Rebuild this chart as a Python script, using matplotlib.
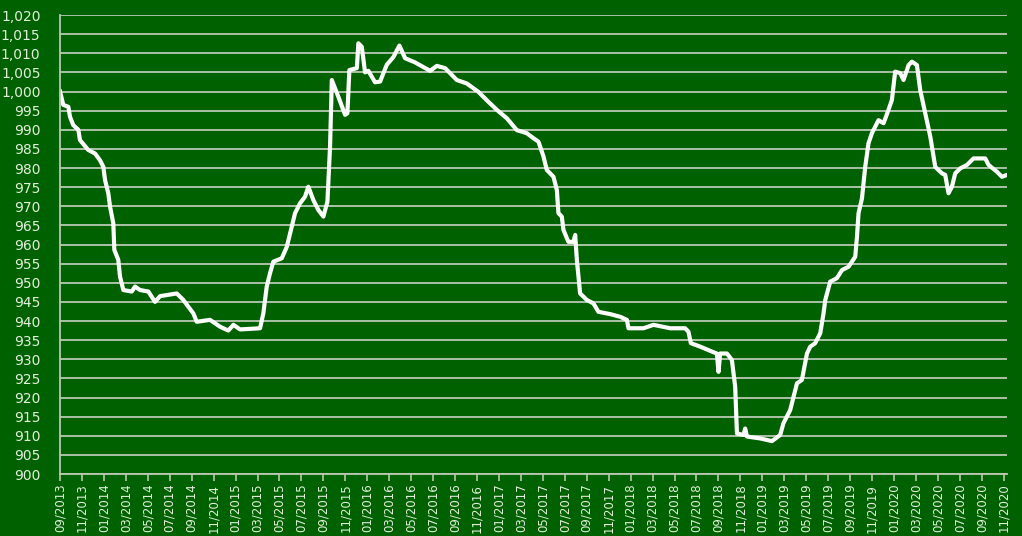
import matplotlib
matplotlib.use("Agg")
import matplotlib.pyplot as plt
import numpy as np

# months since 09/2013 and index values
months = [0, 0.30, 0.76, 0.91, 1.21, 1.67, 1.82, 2.58, 3.19, 3.65, 3.95, 4.10, 4.40,
          4.56, 4.86, 4.95, 5.31, 5.47, 5.77, 6.54, 6.84, 7.29, 8.05, 8.66, 9.12,
          10.64, 11.24, 11.70, 12.15, 12.46, 13.67, 14.59, 15.34, 15.80, 16.41,
          18.23, 18.53, 18.84, 19.14, 19.44, 20.21, 20.67, 21.12, 21.42, 21.88,
          22.33, 22.63, 23.09, 23.55, 24.00, 24.37, 24.61, 24.77, 25.37, 25.98,
          26.19, 26.37, 27.05, 27.19, 27.50, 27.80, 28.10, 28.71, 29.17, 29.78,
          30.38, 30.93, 31.45, 32.36, 33.73, 34.34, 35.10, 36.16, 37.07, 38.13,
          39.04, 39.81, 40.72, 41.63, 42.54, 43.14, 43.60, 44.06, 44.36, 44.97,
          45.28, 45.42, 45.73, 45.88, 46.33, 46.79, 46.95, 47.10, 47.40, 48.01,
          48.61, 49.07, 50.14, 51.05, 51.66, 51.81, 53.17, 54.08, 55.61, 56.97,
          57.27, 57.49, 58.34, 59.41, 59.86, 60.01, 60.16, 60.78, 61.23, 61.53,
          61.69, 62.29, 62.44, 62.60, 63.81, 64.88, 65.63, 65.93, 66.54, 66.85,
          67.16, 67.61, 68.07, 68.37, 68.82, 69.28, 69.58, 69.74, 70.19, 70.80,
          71.26, 71.86, 72.47, 72.63, 72.77, 73.08, 73.38, 73.68, 73.99, 74.59,
          75.05, 75.50, 75.81, 76.11, 76.57, 76.87, 77.33, 77.64, 78.09, 78.39,
          78.85, 79.31, 79.76, 80.37, 80.67, 80.97, 81.28, 81.58, 82.04, 82.65,
          83.25, 84.32, 84.62, 85.39, 85.84, 86.30]
values = [1000, 996.5, 996, 993.4, 991.2, 990, 987.3, 984.7, 983.8, 982, 980.3, 976.9, 973.4,
          969.9, 965.5, 958.6, 956, 951.6, 948.1, 947.7, 949, 948.1, 947.7, 945, 946.5,
          947.2, 945.5, 943.7, 942, 939.8, 940.3, 938.5, 937.5, 939, 937.8,
          938.1, 942, 949, 952.5, 955.5, 956.4, 959.4, 964.7, 968.2, 970.8,
          972.5, 975.1, 971.6, 969, 967.3, 971.2, 985.6, 1003, 998.6, 993.9,
          994.3, 1005.6, 1006.1, 1012.6, 1011.7, 1005, 1005.4, 1002.4, 1002.6, 1007,
          1009, 1012, 1008.7, 1007.6, 1005.4, 1006.7, 1006.1, 1003, 1002.1, 999.9,
          997.3, 995.2, 993, 989.9, 989.1, 987.8, 986.9, 983, 979.5, 977.7,
          974.2, 968.2, 967.3, 963.8, 960.7, 960.7, 962.5, 956, 947.2, 945.5,
          944.6, 942.4, 941.8, 941.1, 940.3, 938.1, 938.1, 939, 938.1, 938.1,
          937.2, 934.2, 933.3, 932, 931.5, 926.7, 931.5, 931.5, 929.8, 922.8,
          910.6, 910.2, 911.9, 909.8, 909.3, 908.6, 910.2, 913.3, 916.7, 920.2,
          923.7, 924.6, 931.5, 933.3, 934.2, 936.8, 942, 945.5, 950.3, 951.2,
          953.3, 954.2, 956.8, 962.1, 968.2, 972, 980.3, 986.5, 989.1, 992.5,
          991.7, 995.2, 997.8, 1005.2, 1004.8, 1003, 1006.9, 1007.8, 1006.9, 1000.4,
          994.3, 988.2, 980.3, 978.6, 978.2, 973.4, 975.1, 978.6, 979.9, 980.8,
          982.5, 982.5, 980.8, 979, 977.7, 978.2]

tick_months = np.arange(0, 87, 2)
tick_labels = ["%02d/%d" % ((8 + m) % 12 + 1, 2013 + (8 + m) // 12) for m in tick_months]
y_ticks = np.arange(900, 1021, 5)

bg = "#006100"
txt = "#e2f0dc"
grid_col = "#b9c9b3"

plt.rcParams["font.family"] = ["DejaVu Sans"]

fig = plt.figure(figsize=(10.22, 5.36), dpi=100, facecolor=bg)
ax = fig.add_axes([60 / 1022, 62 / 536, 947 / 1022, 459 / 536], facecolor=bg)

ax.plot(months, values, color="white", lw=3, solid_joinstyle="round")

ax.set_xlim(0, 86.3)
ax.set_ylim(900, 1020)
ax.set_yticks(y_ticks)
ax.set_yticklabels(["{:,}".format(v) for v in y_ticks])
ax.set_xticks(tick_months)
ax.set_xticklabels(tick_labels, rotation=90)

ax.grid(axis="y", color=grid_col, lw=1.3)
ax.set_axisbelow(True)
for s in ["top", "right"]:
    ax.spines[s].set_visible(False)
for s in ["left", "bottom"]:
    ax.spines[s].set_color(grid_col)
    ax.spines[s].set_linewidth(1.3)

ax.tick_params(axis="y", length=0, pad=14, labelsize=10, colors=txt)
ax.tick_params(axis="x", length=5, width=1.2, color=grid_col, pad=2, labelsize=8.5,
               labelcolor=txt)

fig.savefig("out.png", dpi=100, facecolor=bg)
